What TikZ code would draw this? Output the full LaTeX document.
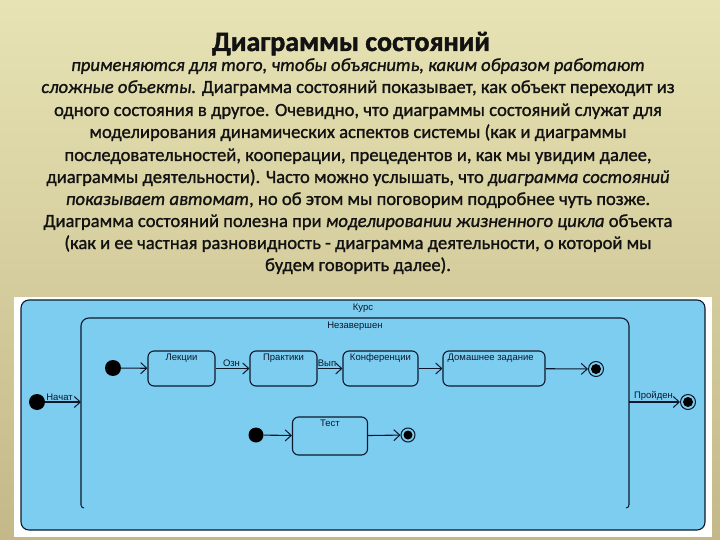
\documentclass[tikz,border=0pt]{standalone}
\usepackage{fontspec}
\setmainfont{Carlito}[FakeBold=1.2]
\newfontfamily\titlefont{Carlito}[FakeBold=1.5]
\newfontfamily\diagfont{Liberation Sans}
\usetikzlibrary{arrows.meta}
\definecolor{bgtop}{RGB}{231,227,180}
\definecolor{bgbot}{RGB}{196,184,136}
\definecolor{bluefill}{RGB}{124,205,240}
\definecolor{lineclr}{RGB}{14,24,44}
\definecolor{txt}{RGB}{18,18,18}
\begin{document}
\begin{tikzpicture}[x=1pt,y=-1pt,
  body/.style={anchor=base, inner sep=0pt, text=txt, font=\fontsize{18.6}{21}\selectfont},
  stbox/.style={draw=lineclr, line width=1.1pt, rounded corners=6pt, fill=bluefill, inner sep=0pt},
  stlabel/.style={anchor=north, inner sep=0pt, text=lineclr, font=\diagfont\fontsize{9.5}{11}\selectfont},
  trlabel/.style={inner sep=1pt, text=lineclr, font=\diagfont\fontsize{9.5}{11}\selectfont},
  initst/.style={circle, fill=black, inner sep=0pt, minimum size=16pt},
  finalst/.style={circle, draw=lineclr, line width=1pt, fill=bluefill, inner sep=0pt, minimum size=15pt},
  tr/.style={draw=lineclr, line width=1.1pt, -{Straight Barb[length=6pt,width=11pt,line width=1pt]}},
]
\useasboundingbox (0,0) rectangle (720,540);
\shade[top color=bgtop, bottom color=bgbot] (0,0) rectangle (720,540);

% title
\node[anchor=base, inner sep=0pt, text=txt, font=\titlefont\bfseries\fontsize{28}{32}\selectfont] (title) at (351,51) {Диаграммы состояний};

% body text
\node[body] (l1) at (358,71) {\itshape применяются для того, чтобы объяснить, каким образом работают};
\node[body] (l2) at (358,93) {\textit{сложные объекты.} Диаграмма состояний показывает, как объект переходит из};
\node[body] (l3) at (358,116) {одного состояния в другое. Очевидно, что диаграммы состояний служат для};
\node[body] (l4) at (358,138) {моделирования динамических аспектов системы (как и диаграммы};
\node[body] (l5) at (358,161) {последовательностей, кооперации, прецедентов и, как мы увидим далее,};
\node[body] (l6) at (358,183) {диаграммы деятельности). Часто можно услышать, что \textit{диаграмма состояний}};
\node[body] (l7) at (358,205) {\textit{показывает автомат}, но об этом мы поговорим подробнее чуть позже.};
\node[body] (l8) at (358,227) {Диаграмма состояний полезна при \textit{моделировании жизненного цикла} объекта};
\node[body] (l9) at (358,249) {(как и ее частная разновидность - диаграмма деятельности, о которой мы};
\node[body] (l10) at (358,271) {будем говорить далее).};

% frame
\fill[white] (14,297) rectangle (712,537);
\draw[draw=lineclr, line width=1.1pt, fill=bluefill, rounded corners=8pt] (21,300) rectangle (705,530);
\node[trlabel] (kurs) at (363,308) {Курс};

% composite state (cut at the bottom)
\coordinate (inBL) at (81,505);
\coordinate (inBR) at (629,505);
\draw[draw=lineclr, line width=1.1pt, rounded corners=8pt] (inBL) -- (81,318) -- (629,318) -- (inBR);
\draw[draw=lineclr, line width=1pt] (inBL) to[out=270,in=180] (84,508);
\draw[draw=lineclr, line width=1pt] (inBR) to[out=270,in=0] (626,508);
\node[trlabel] (nez) at (355,326) {Незавершен};

% first region
\node[initst] (i1) at (113,368) {};
\node[stbox, minimum width=67pt, minimum height=35pt] (lek) at (181.5,368.5) {};
\node[stlabel] at ([yshift=-3pt]lek.north) {Лекции};
\node[stbox, minimum width=67pt, minimum height=35pt] (prak) at (283.5,368.5) {};
\node[stlabel] at ([yshift=-3pt]prak.north) {Практики};
\node[stbox, minimum width=75pt, minimum height=35pt] (konf) at (380.5,368.5) {};
\node[stlabel] at ([yshift=-3pt]konf.north) {Конференции};
\node[stbox, minimum width=102pt, minimum height=35pt] (dom) at (494,368.5) {};
\node[stlabel, anchor=north west] at ([xshift=5pt,yshift=-3pt]dom.north west) {Домашнее задание};
\node[finalst] (f1) at (596,369) {};
\fill[black] (f1.center) circle (5pt);

\draw[tr] (i1) -- (lek);
\draw[tr] (lek) -- node[trlabel, above, xshift=-1pt] {Озн} (prak);
\draw[tr] (prak) -- node[trlabel, above, xshift=-3pt] {Вып} (konf);
\draw[tr] (konf) -- (dom);
\draw[tr] (dom) -- (f1);

% second region
\node[initst, minimum size=15pt] (i2) at (256,435) {};
\node[stbox, minimum width=75pt, minimum height=38pt] (test) at (330,436) {};
\node[stlabel] at ([yshift=-3pt]test.north) {Тест};
\node[finalst, minimum size=14pt] (f2) at (408,435) {};
\fill[black] (f2.center) circle (4.5pt);
\draw[tr] (i2) -- (test);
\draw[tr] (test) -- (f2);

% outer transitions
\node[initst] (i0) at (37,402) {};
\coordinate (inL) at (81,402);
\draw[tr] (i0) -- node[trlabel, above, pos=0.4] {Начат} (inL);
\coordinate (inR) at (629,402);
\node[finalst] (f0) at (688,402) {};
\fill[black] (f0.center) circle (5pt);
\draw[tr] (inR) -- node[trlabel, above, pos=0.48] {Пройден} (f0);
\end{tikzpicture}
\end{document}
